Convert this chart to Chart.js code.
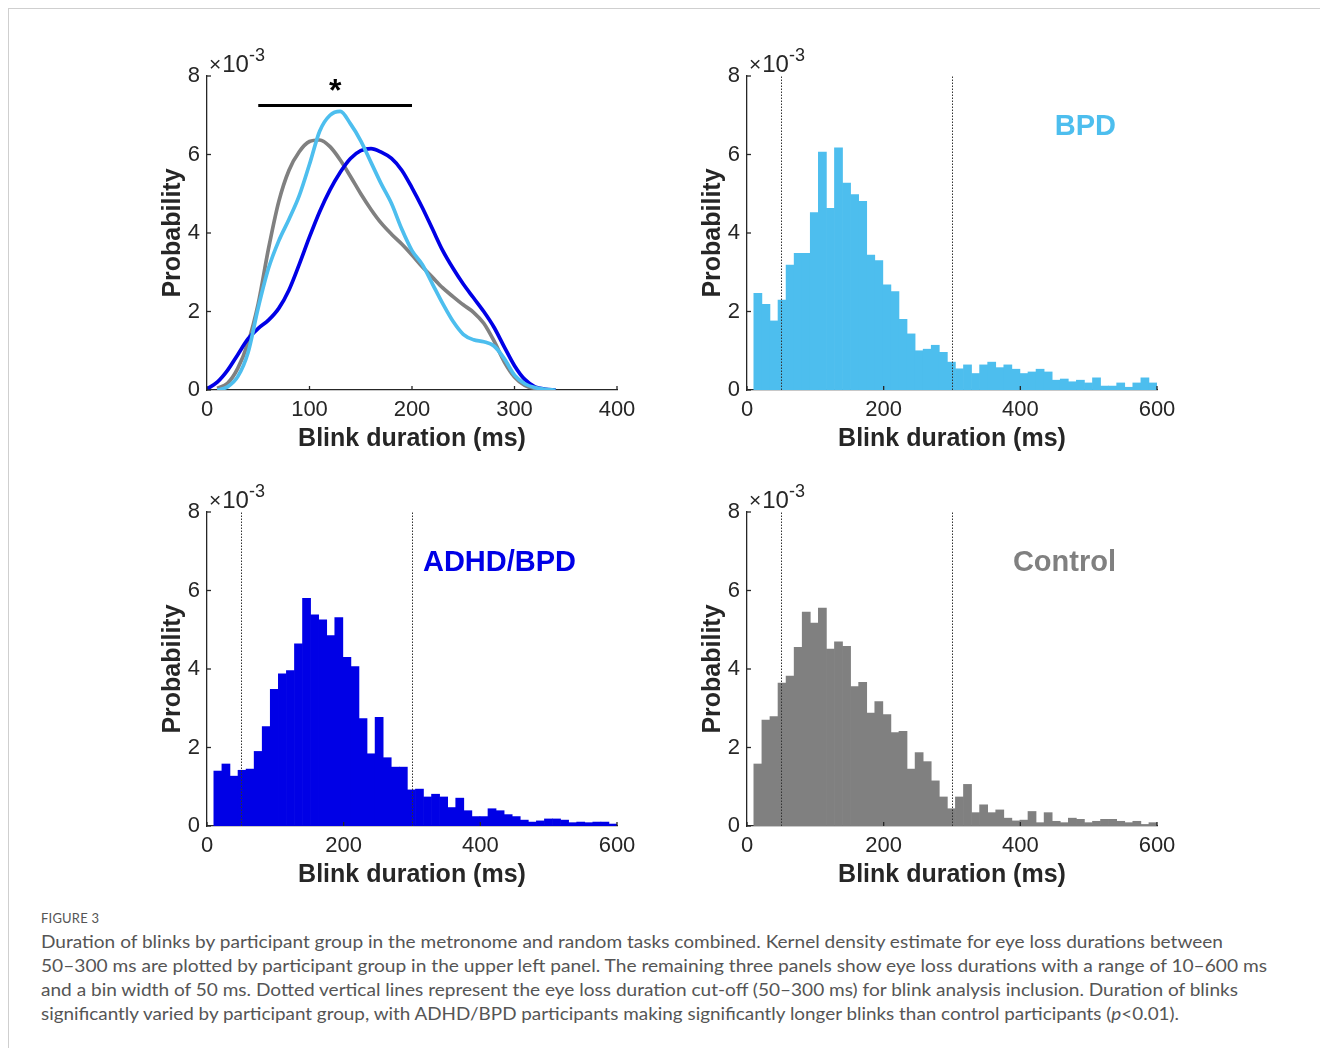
<!DOCTYPE html>
<html>
<head>
<meta charset="utf-8">
<title>Blink duration</title>
<script src="https://cdn.jsdelivr.net/npm/chart.js@4.4.1/dist/chart.umd.min.js"></script>
<style>
  body { margin: 0; background: #fff; width: 1320px; height: 1048px; overflow: hidden; position: relative; font-family: "Liberation Sans", Arial, sans-serif; }
  #frame { position: absolute; left: 8px; top: 8px; width: 1312px; height: 1040px; border-top: 1px solid #cfcfcf; border-left: 1px solid #cfcfcf; }
  .panel { position: absolute; }
  #figLabel { position: absolute; left: 41px; top: 910px; font-family: Lato, "Open Sans", sans-serif; font-size: 13px; color: #555; letter-spacing: 0.2px; }
  .capLine { position: absolute; left: 41px; font-family: Lato, "Open Sans", sans-serif; font-size: 17px; color: #555; white-space: nowrap; transform-origin: 0 0; }
</style>
</head>
<body>
<div id="frame"></div>
<canvas id="kde" class="panel" width="493" height="428" style="left:154px; top:26px;"></canvas>
<canvas id="bpd" class="panel" width="493" height="428" style="left:694px; top:26px;"></canvas>
<canvas id="adhd" class="panel" width="493" height="428" style="left:154px; top:462px;"></canvas>
<canvas id="control" class="panel" width="493" height="428" style="left:694px; top:462px;"></canvas>

<div id="figLabel">FIGURE 3</div>
<div class="capLine" data-w="1182" style="top:931px;">Duration of blinks by participant group in the metronome and random tasks combined. Kernel density estimate for eye loss durations between</div>
<div class="capLine" data-w="1226" style="top:955px;">50–300 ms are plotted by participant group in the upper left panel. The remaining three panels show eye loss durations with a range of 10–600 ms</div>
<div class="capLine" data-w="1197" style="top:979px;">and a bin width of 50 ms. Dotted vertical lines represent the eye loss duration cut-off (50–300 ms) for blink analysis inclusion. Duration of blinks</div>
<div class="capLine" data-w="1138" style="top:1003px;">significantly varied by participant group, with ADHD/BPD participants making significantly longer blinks than control participants (<i>p</i>&lt;0.01).</div>

<script>
// probability values are in units of 10^-3

// kernel density estimates, 50-300 ms blinks
var kdeDuration = [0, 10, 20, 30, 40, 50, 60, 70, 80, 90, 100, 110, 120, 130, 140, 150, 160, 170,
	180, 190, 200, 210, 220, 230, 240, 250, 260, 270, 280, 290, 300, 310, 320, 330, 340];
var kdeBpd = [null, 0, 0.08, 0.34, 0.95, 2.1, 3.1, 3.8, 4.35, 4.95, 5.75, 6.6, 7.0, 7.1, 6.78, 6.35, 5.8, 5.25,
	4.75, 4.1, 3.55, 3.2, 2.7, 2.2, 1.75, 1.42, 1.28, 1.23, 1.12, 0.8, 0.38, 0.16, 0.06, 0.02, 0];
var kdeAdhdBpd = [0.03, 0.2, 0.5, 0.9, 1.3, 1.57, 1.78, 2.08, 2.55, 3.2, 3.9, 4.55, 5.1, 5.55, 5.9, 6.1, 6.15, 6.06,
	5.9, 5.6, 5.15, 4.65, 4.1, 3.55, 3.1, 2.7, 2.35, 2.0, 1.6, 1.1, 0.62, 0.27, 0.08, 0.02, 0];
var kdeControl = [null, 0.04, 0.17, 0.55, 1.2, 2.2, 3.6, 4.8, 5.6, 6.07, 6.33, 6.37, 6.2, 5.86, 5.44, 5.0, 4.6, 4.25,
	3.97, 3.72, 3.44, 3.14, 2.87, 2.6, 2.38, 2.17, 1.98, 1.7, 1.25, 0.72, 0.33, 0.12, 0.04, 0.01, 0];

// significance bracket (ms) and its height
var sigRange = [50, 200];
var sigLevel = 7.25;

// histograms: 50 bins over 10-600 ms
var binStart = 10;
var binEnd = 600;
var binCount = 50;
var histBpd = [2.46, 2.18, 1.76, 2.29, 3.18, 3.48, 3.48, 4.52, 6.06, 4.63, 6.17, 5.27, 4.98, 4.81, 3.44, 3.30, 2.68, 2.51, 1.80, 1.43,
	1.00, 1.04, 1.14, 0.96, 0.71, 0.54, 0.64, 0.42, 0.64, 0.71, 0.57, 0.64, 0.53, 0.42, 0.46, 0.53, 0.46, 0.25, 0.28, 0.21,
	0.25, 0.18, 0.31, 0.10, 0.10, 0.18, 0.07, 0.18, 0.31, 0.18];
var histAdhdBpd = [1.40, 1.58, 1.27, 1.42, 1.45, 1.90, 2.53, 3.48, 3.88, 3.96, 4.64, 5.80, 5.38, 5.25, 4.85, 5.31, 4.30, 4.06, 2.74, 1.84,
	2.77, 1.74, 1.50, 1.50, 0.92, 0.94, 0.74, 0.81, 0.74, 0.47, 0.71, 0.39, 0.24, 0.24, 0.44, 0.39, 0.29, 0.24, 0.15, 0.10,
	0.13, 0.18, 0.18, 0.15, 0.085, 0.10, 0.085, 0.10, 0.10, 0.05];
var histControl = [1.58, 2.70, 2.79, 3.64, 3.82, 4.55, 5.45, 5.17, 5.55, 4.51, 4.69, 4.58, 3.55, 3.66, 2.88, 3.17, 2.84, 2.38, 2.41, 1.45,
	1.87, 1.64, 1.15, 0.74, 0.44, 0.74, 1.06, 0.34, 0.54, 0.34, 0.41, 0.20, 0.13, 0.15, 0.37, 0.085, 0.34, 0.12, 0.085, 0.20,
	0.17, 0.085, 0.12, 0.17, 0.17, 0.12, 0.085, 0.12, 0.04, 0.085];

var cutoffs = [50, 300];

var colBpd = '#4DBEEE';
var colAdhd = '#0000E6';
var colControl = '#808080';
var axisColor = '#262626';
var fontFamily = '"Liberation Sans", Arial, sans-serif';

var binWidth = (binEnd - binStart) / binCount;
var binCenters = histBpd.map(function (v, i) { return binStart + (i + 0.5) * binWidth; });

// matlab-ish decorations: inward ticks, x10^-3 marker, cut-off lines, group names
var matlabAxes = {
	id: 'matlabAxes',
	afterDatasetsDraw: function (chart, args, opts) {
		var ctx = chart.ctx, x = chart.scales.x, y = chart.scales.y;
		ctx.save();
		ctx.strokeStyle = '#333';
		ctx.lineWidth = 1;
		ctx.setLineDash([1.5, 1.5]);
		(opts.cutoffs || []).forEach(function (v) {
			var px = Math.round(x.getPixelForValue(v)) + 0.5;
			ctx.beginPath();
			ctx.moveTo(px, y.getPixelForValue(0));
			ctx.lineTo(px, y.getPixelForValue(8));
			ctx.stroke();
		});
		ctx.restore();
	},
	afterDraw: function (chart, args, opts) {
		var ctx = chart.ctx, x = chart.scales.x, y = chart.scales.y, a = chart.chartArea;
		ctx.save();
		ctx.strokeStyle = axisColor;
		ctx.lineWidth = 1.3;
		x.ticks.forEach(function (t) {
			var px = x.getPixelForValue(t.value);
			ctx.beginPath(); ctx.moveTo(px, a.bottom); ctx.lineTo(px, a.bottom - 4); ctx.stroke();
		});
		y.ticks.forEach(function (t) {
			var py = y.getPixelForValue(t.value);
			ctx.beginPath(); ctx.moveTo(a.left, py); ctx.lineTo(a.left + 4, py); ctx.stroke();
		});

		// exponent marker
		ctx.fillStyle = axisColor;
		ctx.textBaseline = 'alphabetic';
		ctx.textAlign = 'left';
		var tx = a.left + 2;
		ctx.font = '21px ' + fontFamily;
		ctx.fillText('\u00d7', tx, a.top - 5);
		tx += ctx.measureText('\u00d7').width + 1;
		ctx.font = '24px ' + fontFamily;
		ctx.fillText('10', tx, a.top - 4);
		tx += ctx.measureText('10').width;
		ctx.font = '18px ' + fontFamily;
		ctx.fillText('-3', tx, a.top - 15);

		if (opts.group) {
			ctx.font = 'bold 29px ' + fontFamily;
			ctx.fillStyle = opts.group.color;
			ctx.textAlign = 'right';
			ctx.textBaseline = 'middle';
			ctx.fillText(opts.group.text, x.getPixelForValue(opts.group.x), y.getPixelForValue(opts.group.y));
		}
		if (opts.star) {
			ctx.font = 'bold 32px ' + fontFamily;
			ctx.fillStyle = '#000';
			ctx.textAlign = 'center';
			ctx.textBaseline = 'middle';
			ctx.fillText('*', x.getPixelForValue(opts.star.x), y.getPixelForValue(opts.star.y));
		}
		ctx.restore();
	}
};

function xAxis(max, step) {
	return {
		type: 'linear', min: 0, max: max, offset: false, z: 1,
		grid: { display: false, drawTicks: false, offset: false },
		border: { display: true, color: axisColor, width: 1.3 },
		ticks: { stepSize: step, padding: 7, color: axisColor, maxRotation: 0, autoSkip: false,
			font: { size: 22, family: fontFamily } },
		title: { display: true, text: 'Blink duration (ms)', color: axisColor,
			font: { size: 25, weight: 'bold', family: fontFamily }, padding: { top: 0, bottom: 0 } },
		afterFit: function (s) { s.height = 64; }
	};
}

function yAxis() {
	return {
		type: 'linear', min: 0, max: 8, z: 1,
		grid: { display: false, drawTicks: false },
		border: { display: true, color: axisColor, width: 1.3 },
		ticks: { stepSize: 2, padding: 7, color: axisColor, font: { size: 22, family: fontFamily } },
		title: { display: true, text: 'Probability', color: axisColor,
			font: { size: 25, weight: 'bold', family: fontFamily }, padding: { top: 4, bottom: 0 } },
		afterFit: function (s) { s.width = 53; }
	};
}

function baseOptions(xMax, xStep, decor) {
	return {
		responsive: false,
		animation: false,
		layout: { padding: { top: 50, right: 30, left: 0, bottom: 0 } },
		plugins: { legend: { display: false }, tooltip: { enabled: false }, matlabAxes: decor },
		scales: { x: xAxis(xMax, xStep), y: yAxis() }
	};
}

function kdeLine(values, color) {
	return {
		data: kdeDuration.map(function (d, i) { return { x: d, y: values[i] }; }),
		borderColor: color, borderWidth: 3.7, pointRadius: 0, fill: false,
		cubicInterpolationMode: 'monotone', spanGaps: false
	};
}

new Chart(document.getElementById('kde'), {
	type: 'line',
	data: {
		datasets: [
			{
				data: [{ x: sigRange[0], y: sigLevel }, { x: sigRange[1], y: sigLevel }],
				borderColor: '#000', borderWidth: 3, pointRadius: 0
			},
			kdeLine(kdeBpd, colBpd),
			kdeLine(kdeAdhdBpd, colAdhd),
			kdeLine(kdeControl, colControl)
		]
	},
	options: baseOptions(400, 100, { star: { x: (sigRange[0] + sigRange[1]) / 2, y: 7.6 } }),
	plugins: [matlabAxes]
});

function histogram(id, values, color, name) {
	return new Chart(document.getElementById(id), {
		type: 'bar',
		data: {
			datasets: [{
				data: values.map(function (v, i) { return { x: binCenters[i], y: v }; }),
				backgroundColor: color, borderWidth: 0,
				barPercentage: 1, categoryPercentage: 1
			}]
		},
		options: baseOptions(600, 200, { cutoffs: cutoffs, group: { text: name, color: color, x: 540, y: 6.7 } }),
		plugins: [matlabAxes]
	});
}

histogram('bpd', histBpd, colBpd, 'BPD');
histogram('adhd', histAdhdBpd, colAdhd, 'ADHD/BPD');
histogram('control', histControl, colControl, 'Control');

// stretch each caption line to its column width
document.querySelectorAll('.capLine').forEach(function (el) {
	var w = el.getBoundingClientRect().width;
	el.style.transform = 'scaleX(' + (parseFloat(el.dataset.w) / w) + ')';
});
</script>
</body>
</html>
